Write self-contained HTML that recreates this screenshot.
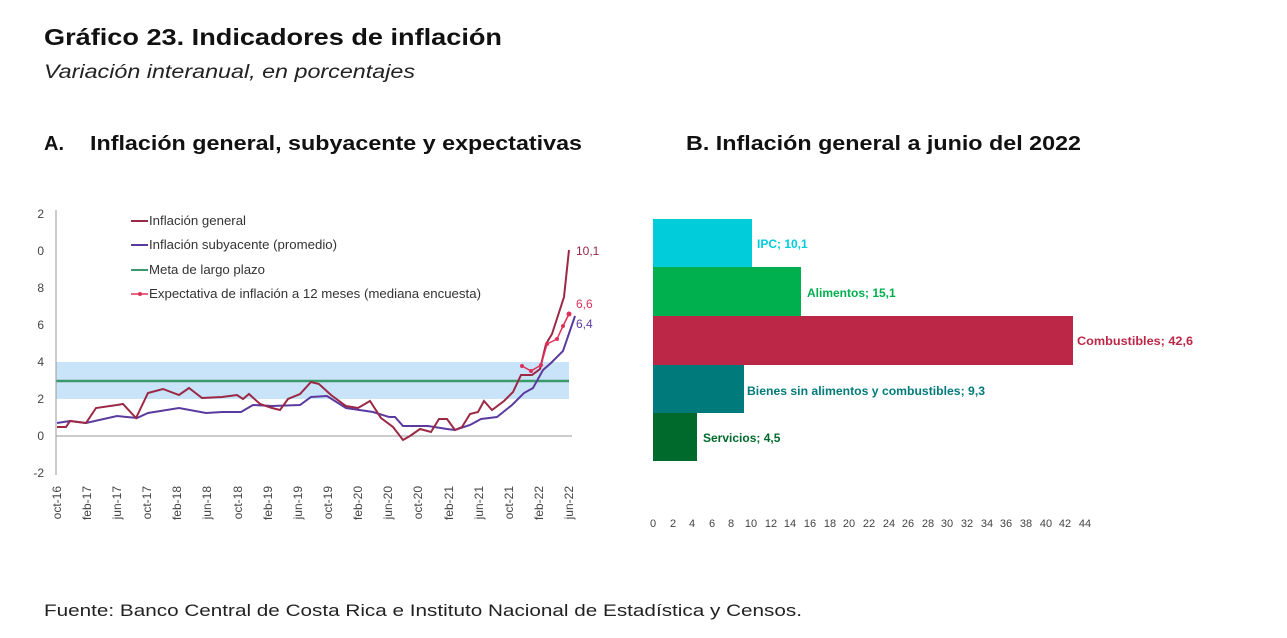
<!DOCTYPE html>
<html><head><meta charset="utf-8"><style>
body{margin:0;background:#fff;width:1287px;height:633px;overflow:hidden;font-family:"Liberation Sans",sans-serif;}
</style></head><body>
<svg width="1287" height="633" xmlns="http://www.w3.org/2000/svg" font-family="Liberation Sans, sans-serif">
<text x="44" y="45" font-size="23" font-weight="bold" fill="#111" textLength="458" lengthAdjust="spacingAndGlyphs">Gráfico 23. Indicadores de inflación</text>
<text x="44" y="78" font-size="19" font-style="italic" fill="#222" textLength="371" lengthAdjust="spacingAndGlyphs">Variación interanual, en porcentajes</text>
<text x="44" y="150" font-size="20" font-weight="bold" fill="#111">A.</text>
<text x="90" y="150" font-size="20" font-weight="bold" fill="#111" textLength="492" lengthAdjust="spacingAndGlyphs">Inflación general, subyacente y expectativas</text>
<text x="686" y="150" font-size="20" font-weight="bold" fill="#111" textLength="395" lengthAdjust="spacingAndGlyphs">B. Inflación general a junio del 2022</text>
<text x="44" y="616" font-size="17" fill="#222" textLength="758" lengthAdjust="spacingAndGlyphs">Fuente: Banco Central de Costa Rica e Instituto Nacional de Estadística y Censos.</text>

<!-- Chart A -->
<rect x="56" y="362" width="513" height="37" fill="#c9e3f9"/>
<line x1="56" y1="381" x2="569" y2="381" stroke="#3a9a6a" stroke-width="2.5"/>
<line x1="56" y1="210" x2="56" y2="475" stroke="#999" stroke-width="1"/>
<line x1="56" y1="436" x2="572" y2="436" stroke="#999" stroke-width="1"/>
<g font-size="12" fill="#444" text-anchor="end">
<text x="44" y="218">2</text><text x="44" y="255">0</text><text x="44" y="292">8</text><text x="44" y="329">6</text><text x="44" y="366">4</text><text x="44" y="403">2</text><text x="44" y="440">0</text><text x="44" y="477">-2</text>
</g>
<g font-size="12" fill="#444" text-anchor="end">
<text transform="translate(61,486) rotate(-90)">oct-16</text>
<text transform="translate(91,486) rotate(-90)">feb-17</text>
<text transform="translate(121,486) rotate(-90)">jun-17</text>
<text transform="translate(151,486) rotate(-90)">oct-17</text>
<text transform="translate(181,486) rotate(-90)">feb-18</text>
<text transform="translate(211,486) rotate(-90)">jun-18</text>
<text transform="translate(242,486) rotate(-90)">oct-18</text>
<text transform="translate(272,486) rotate(-90)">feb-19</text>
<text transform="translate(302,486) rotate(-90)">jun-19</text>
<text transform="translate(332,486) rotate(-90)">oct-19</text>
<text transform="translate(362,486) rotate(-90)">feb-20</text>
<text transform="translate(392,486) rotate(-90)">jun-20</text>
<text transform="translate(422,486) rotate(-90)">oct-20</text>
<text transform="translate(453,486) rotate(-90)">feb-21</text>
<text transform="translate(483,486) rotate(-90)">jun-21</text>
<text transform="translate(513,486) rotate(-90)">oct-21</text>
<text transform="translate(543,486) rotate(-90)">feb-22</text>
<text transform="translate(573,486) rotate(-90)">jun-22</text>
</g>
<polyline fill="none" stroke="#5b3aa0" stroke-width="2" points="57,423 70,421 86,423 117,416 137,418 148,413 179,408 206,413 222,412 241,412 253,405 272,406 300,405 311,397 327,396 346,408 373,412 389,417 395,417 403,426 428,426 447,429 455,430 470,425 481,419 497,417 512,405 524,393 533,388 543,370 551,363 563,351 575,316"/>
<polyline fill="none" stroke="#9b2845" stroke-width="2" points="57,427 66,427 70,421 86,423 96,408 117,405 123,404 136,418 148,393 163,389 179,395 189,388 202,398 222,397 237,395 243,399 249,394 260,404 272,408 280,410 288,399 300,394 311,382 319,384 331,395 346,406 358,408 370,401 381,418 393,427 403,440 410,436 420,429 431,432 439,419 447,419 455,430 462,427 470,414 478,412 484,401 492,410 504,401 513,392 521,375 532,375 540,369 546,344 552,334 564,297 569,250"/>
<polyline fill="none" stroke="#e0305a" stroke-width="1.5" points="522,366 531,371 541,365 547,344 557,339 563,326 569,314"/>
<g fill="#e0305a"><circle cx="522" cy="366" r="2"/><circle cx="531" cy="371" r="2"/><circle cx="541" cy="365" r="2"/><circle cx="547" cy="344" r="2"/><circle cx="557" cy="339" r="2"/><circle cx="563" cy="326" r="2"/><circle cx="569" cy="314" r="2.5"/></g>
<text x="576" y="255" font-size="12" fill="#9b2845">10,1</text>
<text x="576" y="308" font-size="12" fill="#e0305a">6,6</text>
<text x="576" y="328" font-size="12" fill="#5b3aa0">6,4</text>
<g font-size="12.5" fill="#333">
<line x1="131" y1="221" x2="148" y2="221" stroke="#9b2845" stroke-width="2"/><text x="149" y="225" textLength="97" lengthAdjust="spacingAndGlyphs">Inflación general</text>
<line x1="131" y1="245" x2="148" y2="245" stroke="#5b3aa0" stroke-width="2"/><text x="149" y="249" textLength="188" lengthAdjust="spacingAndGlyphs">Inflación subyacente (promedio)</text>
<line x1="131" y1="270" x2="148" y2="270" stroke="#3a9a6a" stroke-width="2"/><text x="149" y="274" textLength="116" lengthAdjust="spacingAndGlyphs">Meta de largo plazo</text>
<line x1="131" y1="294" x2="148" y2="294" stroke="#e0305a" stroke-width="1.5"/><circle cx="140" cy="294" r="2" fill="#e0305a"/><text x="149" y="298" textLength="332" lengthAdjust="spacingAndGlyphs">Expectativa de inflación a 12 meses (mediana encuesta)</text>
</g>

<!-- Chart B -->
<rect x="653" y="219" width="99" height="48" fill="#00cdd9"/>
<rect x="653" y="267" width="148" height="49" fill="#00b04f"/>
<rect x="653" y="316" width="420" height="49" fill="#bc2748"/>
<rect x="653" y="365" width="91" height="48" fill="#007a7a"/>
<rect x="653" y="413" width="44" height="48" fill="#006a2c"/>
<g font-size="12" font-weight="bold">
<text x="757" y="248" fill="#00cdd9">IPC; 10,1</text>
<text x="807" y="297" fill="#00b04f">Alimentos; 15,1</text>
<text x="1077" y="345" fill="#bc2748" textLength="116" lengthAdjust="spacingAndGlyphs">Combustibles; 42,6</text>
<text x="747" y="395" fill="#007a7a" textLength="238" lengthAdjust="spacingAndGlyphs">Bienes sin alimentos y combustibles; 9,3</text>
<text x="703" y="442" fill="#006a2c">Servicios; 4,5</text>
</g>
<g font-size="11" fill="#444" text-anchor="middle">
<text x="653" y="527">0</text><text x="673" y="527">2</text><text x="692" y="527">4</text><text x="712" y="527">6</text><text x="731" y="527">8</text><text x="751" y="527">10</text><text x="771" y="527">12</text><text x="790" y="527">14</text><text x="810" y="527">16</text><text x="830" y="527">18</text><text x="849" y="527">20</text><text x="869" y="527">22</text><text x="889" y="527">24</text><text x="908" y="527">26</text><text x="928" y="527">28</text><text x="947" y="527">30</text><text x="967" y="527">32</text><text x="987" y="527">34</text><text x="1006" y="527">36</text><text x="1026" y="527">38</text><text x="1046" y="527">40</text><text x="1065" y="527">42</text><text x="1085" y="527">44</text>
</g>
</svg>
</body></html>
